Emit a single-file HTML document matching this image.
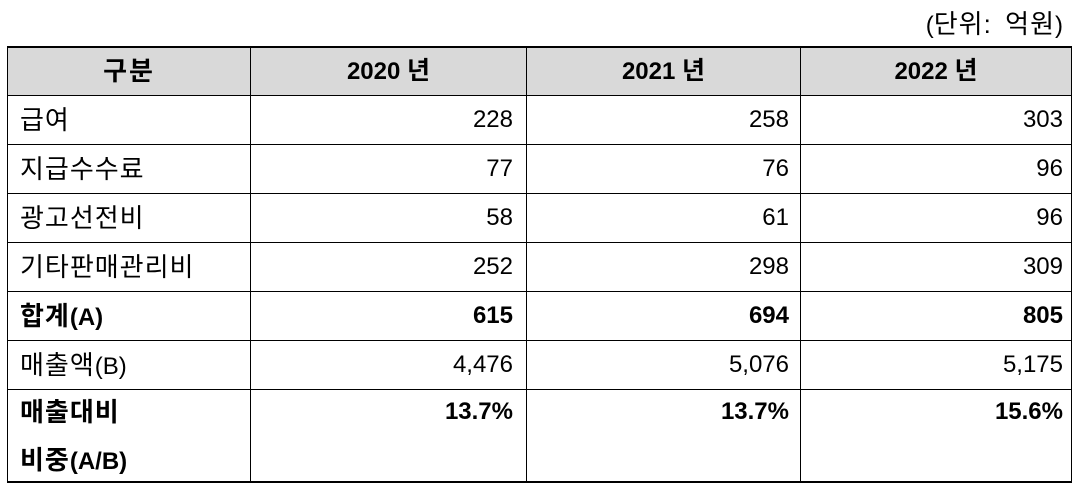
<!DOCTYPE html>
<html><head><meta charset="utf-8"><style>
body{margin:0;width:1079px;height:486px;background:#fff;position:relative;overflow:hidden;font-family:"Liberation Sans","Noto Sans CJK KR",sans-serif;color:#000}
.t{position:absolute;font-size:24px;line-height:28px;white-space:nowrap}
.k{letter-spacing:1px;font-size:26px}
.h{position:absolute;background:#000}
.b{font-weight:bold}
</style></head><body>
<div style="position:absolute;left:7px;top:46px;width:1064px;height:49px;background:#d9d9d9"></div>
<div class="t" style="right:16px;top:10px">(<span class="k">단위:</span>&nbsp; <span class="k">억원</span>)</div>
<div class="h" style="left:7px;top:46px;width:1065px;height:2px"></div>
<div class="h" style="left:7px;top:95px;width:1065px;height:1px"></div>
<div class="h" style="left:7px;top:144px;width:1065px;height:1px"></div>
<div class="h" style="left:7px;top:193px;width:1065px;height:1px"></div>
<div class="h" style="left:7px;top:242px;width:1065px;height:1px"></div>
<div class="h" style="left:7px;top:291px;width:1065px;height:1px"></div>
<div class="h" style="left:7px;top:340px;width:1065px;height:1px"></div>
<div class="h" style="left:7px;top:389px;width:1065px;height:1px"></div>
<div class="h" style="left:7px;top:481px;width:1065px;height:2px"></div>
<div class="h" style="left:7px;top:46px;width:1px;height:437px"></div>
<div class="h" style="left:250px;top:46px;width:1px;height:437px"></div>
<div class="h" style="left:526px;top:46px;width:1px;height:437px"></div>
<div class="h" style="left:800px;top:46px;width:1px;height:437px"></div>
<div class="h" style="left:1071px;top:46px;width:1px;height:437px"></div>
<div class="t b" style="left:7px;width:244px;text-align:center;top:57px;font-size:26px;letter-spacing:2px">구분</div>
<div class="t b" style="left:251px;width:275px;text-align:center;top:57px">2020 <span style="font-size:25px">년</span></div>
<div class="t b" style="left:527px;width:273px;text-align:center;top:57px">2021 <span style="font-size:25px">년</span></div>
<div class="t b" style="left:801px;width:270px;text-align:center;top:57px">2022 <span style="font-size:25px">년</span></div>

<div class="t k" style="left:20px;top:106px">급여</div>
<div class="t" style="right:566px;top:106px">228</div>
<div class="t" style="right:290px;top:106px">258</div>
<div class="t" style="right:16px;top:106px">303</div>

<div class="t k" style="left:20px;top:155px">지급수수료</div>
<div class="t" style="right:566px;top:155px">77</div>
<div class="t" style="right:290px;top:155px">76</div>
<div class="t" style="right:16px;top:155px">96</div>

<div class="t k" style="left:20px;top:204px">광고선전비</div>
<div class="t" style="right:566px;top:204px">58</div>
<div class="t" style="right:290px;top:204px">61</div>
<div class="t" style="right:16px;top:204px">96</div>

<div class="t k" style="left:20px;top:253px">기타판매관리비</div>
<div class="t" style="right:566px;top:253px">252</div>
<div class="t" style="right:290px;top:253px">298</div>
<div class="t" style="right:16px;top:253px">309</div>

<div class="t b" style="left:20px;top:302px"><span class="k">합계</span>(A)</div>
<div class="t b" style="right:566px;top:302px">615</div>
<div class="t b" style="right:290px;top:302px">694</div>
<div class="t b" style="right:16px;top:302px">805</div>

<div class="t" style="left:20px;top:351px"><span class="k">매출액</span>(B)</div>
<div class="t" style="right:566px;top:351px">4,476</div>
<div class="t" style="right:290px;top:351px">5,076</div>
<div class="t" style="right:16px;top:351px">5,175</div>

<div class="t b k" style="left:20px;top:398px">매출대비</div>
<div class="t b" style="left:20px;top:446px"><span class="k">비중</span>(A/B)</div>
<div class="t b" style="right:566px;top:398px">13.7%</div>
<div class="t b" style="right:290px;top:398px">13.7%</div>
<div class="t b" style="right:16px;top:398px">15.6%</div>
</body></html>
